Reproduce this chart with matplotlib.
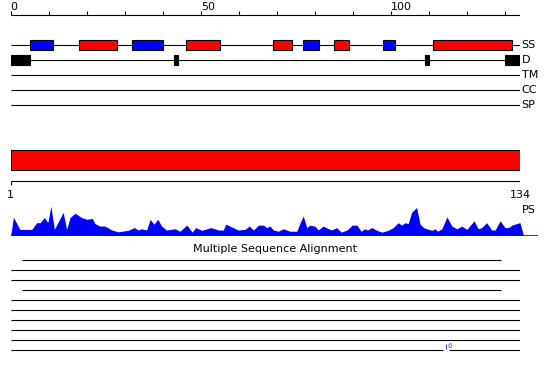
"""
Protein sequence feature overview: secondary structure, disorder,
TM/CC/SP tracks, domain bar, profile score and alignment hits
"""

import matplotlib
matplotlib.use("Agg")
import matplotlib.pyplot as plt
from matplotlib.patches import Rectangle

SEQ_LEN = 134
RULER_TICKS = list(range(0, 131, 10))
RULER_LABELS = [0, 50, 100]

# secondary structure segments (first residue, last residue)
helix_segments = [(19, 28), (47, 55), (70, 74), (86, 89), (112, 132)]
strand_segments = [(6, 11), (33, 40), (78, 81), (99, 101)]
disorder_segments = [(1, 5), (44, 44), (110, 110), (131, 134)]
track_names = ["SS", "D", "TM", "CC", "SP"]

domain_segments = [(1, 134)]

# profile score along the sequence (residue position, score)
profile_pos = [1.0, 1.7, 3.4, 6.5, 7.8, 8.7, 9.8, 10.7, 11.5, 12.4,
               14.7, 15.6, 16.5, 17.8, 19.5, 20.9, 22.3, 23.0, 24.3, 25.6,
               27.4, 29.1, 31.7, 33.3, 34.3, 35.2, 36.5, 37.4, 38.4, 39.4,
               40.4, 41.7, 43.9, 45.2, 47.0, 48.4, 49.3, 50.9, 53.3, 55.2,
               56.5, 57.2, 58.7, 60.4, 62.2, 63.3, 64.4, 65.7, 67.0, 67.9,
               68.7, 69.6, 70.9, 72.2, 73.9, 75.7, 76.6, 77.4, 78.3, 79.2,
               80.5, 81.3, 82.6, 84.0, 84.8, 86.1, 87.3, 88.8, 90.2, 91.4,
               92.5, 93.5, 94.2, 95.3, 96.6, 97.9, 99.6, 100.9, 102.2, 103.1,
               104.0, 104.8, 105.7, 107.0, 107.9, 108.8, 110.1, 111.0, 111.8, 112.5,
               113.6, 114.9, 116.2, 117.5, 118.8, 120.1, 122.0, 123.1, 124.0, 125.3,
               126.6, 127.5, 128.8, 130.1, 131.0, 131.9, 133.4, 134.0, 134.9]
profile_score = [0.00, 0.60, 0.20, 0.20, 0.42, 0.42, 0.59, 0.42, 0.96, 0.20,
                 0.76, 0.20, 0.59, 0.73, 0.59, 0.53, 0.56, 0.39, 0.31, 0.31,
                 0.18, 0.12, 0.17, 0.26, 0.18, 0.22, 0.18, 0.53, 0.37, 0.53,
                 0.31, 0.18, 0.22, 0.14, 0.34, 0.11, 0.26, 0.17, 0.26, 0.18,
                 0.18, 0.37, 0.28, 0.18, 0.20, 0.31, 0.18, 0.34, 0.34, 0.26,
                 0.31, 0.18, 0.14, 0.22, 0.14, 0.14, 0.42, 0.64, 0.26, 0.34,
                 0.30, 0.18, 0.31, 0.22, 0.18, 0.26, 0.11, 0.18, 0.34, 0.34,
                 0.14, 0.22, 0.18, 0.26, 0.17, 0.11, 0.17, 0.26, 0.42, 0.34,
                 0.42, 0.39, 0.76, 0.92, 0.37, 0.26, 0.20, 0.17, 0.22, 0.14,
                 0.22, 0.61, 0.31, 0.22, 0.31, 0.20, 0.48, 0.22, 0.26, 0.42,
                 0.18, 0.18, 0.48, 0.26, 0.26, 0.34, 0.40, 0.42, 0.00]

# alignment hits (first residue, last residue)
align_hits = [(4, 129), (1, 134), (1, 134), (4, 129), (1, 134),
              (1, 134), (1, 134), (1, 134), (1, 134), (1, 134)]
insert_row = 9
insert_after = 114
insert_size = 6

RED = "#ff0000"
BLUE = "#0000ff"
W, H = 550, 380
LEFT, RIGHT = 10.7, 520.0
LW = 0.8

fig = plt.figure(figsize=(5.5, 3.8), dpi=100)


def add_panel(x0, y0, x1, y1):
    # pixel box measured from the top-left corner
    ax = fig.add_axes([x0 / W, 1 - y1 / H, (x1 - x0) / W, (y1 - y0) / H])
    ax.set_axis_off()
    return ax


def label_right(ax, text, y):
    ax.annotate(text, (SEQ_LEN, y), xytext=(1.2, 0), textcoords="offset points",
                va="center", ha="left", fontsize=8, annotation_clip=False)


# top panel: ruler and per-residue tracks
ax = add_panel(LEFT, 0, RIGHT, 120)
ax.set_xlim(0, SEQ_LEN)
ax.set_ylim(120, 0)
ax.hlines(15, 0, SEQ_LEN, color="black", lw=LW)
ax.vlines(RULER_TICKS, 10.7, 15, color="black", lw=LW)
for t in RULER_LABELS:
    ax.text(t, 10, str(t), ha="left", va="baseline", fontsize=8)

rows = {name: 45 + 15 * i for i, name in enumerate(track_names)}
for name, y in rows.items():
    ax.hlines(y, 0, SEQ_LEN, color="black", lw=LW, zorder=1)
    label_right(ax, name, y)

for s, e in helix_segments:
    ax.add_patch(Rectangle((s - 1, rows["SS"] - 5), e - s + 1, 10,
                           fc=RED, ec="black", lw=LW, zorder=2))
for s, e in strand_segments:
    ax.add_patch(Rectangle((s - 1, rows["SS"] - 5), e - s + 1, 10,
                           fc=BLUE, ec="black", lw=LW, zorder=2))
for s, e in disorder_segments:
    ax.add_patch(Rectangle((s - 1, rows["D"] - 5), e - s + 1, 10,
                           fc="black", ec="black", lw=LW, zorder=2))

# middle panel: domain bar and sequence ruler
ax = add_panel(LEFT, 140, RIGHT, 220)
ax.set_xlim(1, SEQ_LEN)
ax.set_ylim(80, 0)
for s, e in domain_segments:
    ax.add_patch(Rectangle((s, 10.3), e - s, 20, fc=RED, ec="black", lw=LW))
ax.hlines(40.7, 1, SEQ_LEN, color="black", lw=LW)
ax.vlines([1, SEQ_LEN], 40.7, 45, color="black", lw=LW)
for t in [1, SEQ_LEN]:
    ax.text(t, 55, str(t), ha="center", va="center", fontsize=8)
label_right(ax, "PS", 70)

# profile score
px_per_res = (RIGHT - LEFT) / (SEQ_LEN - 1)
ax = add_panel(LEFT, 205, 538, 235.5)
ax.set_xlim(1, 1 + (538 - LEFT) / px_per_res)
ax.set_ylim(0, 1)
ax.fill_between(profile_pos, profile_score, 0, color=BLUE, lw=0)
ax.axhline(0, color=BLUE, lw=1.2)

# alignment hits
fig.text(0.5, 1 - 249 / H, "Multiple Sequence Alignment",
         ha="center", va="center", fontsize=8)
ax = add_panel(LEFT, 240, RIGHT, 360)
ax.set_xlim(1, SEQ_LEN)
ax.set_ylim(120, 0)
for i, (s, e) in enumerate(align_hits):
    y = 20 + 10 * i
    if i == insert_row:
        ax.hlines(y, s, insert_after, color="black", lw=LW)
        ax.hlines(y, insert_after + 1.5, e, color="black", lw=LW)
        ax.vlines(insert_after + 0.7, y - 6, y - 1, color="#4444ff", lw=LW)
        ax.text(insert_after + 1.0, y - 3.5, str(insert_size), color="#4444ff",
                fontsize=5, ha="left", va="center")
    else:
        ax.hlines(y, s, e, color="black", lw=LW)

fig.savefig("out.png", dpi=100)
